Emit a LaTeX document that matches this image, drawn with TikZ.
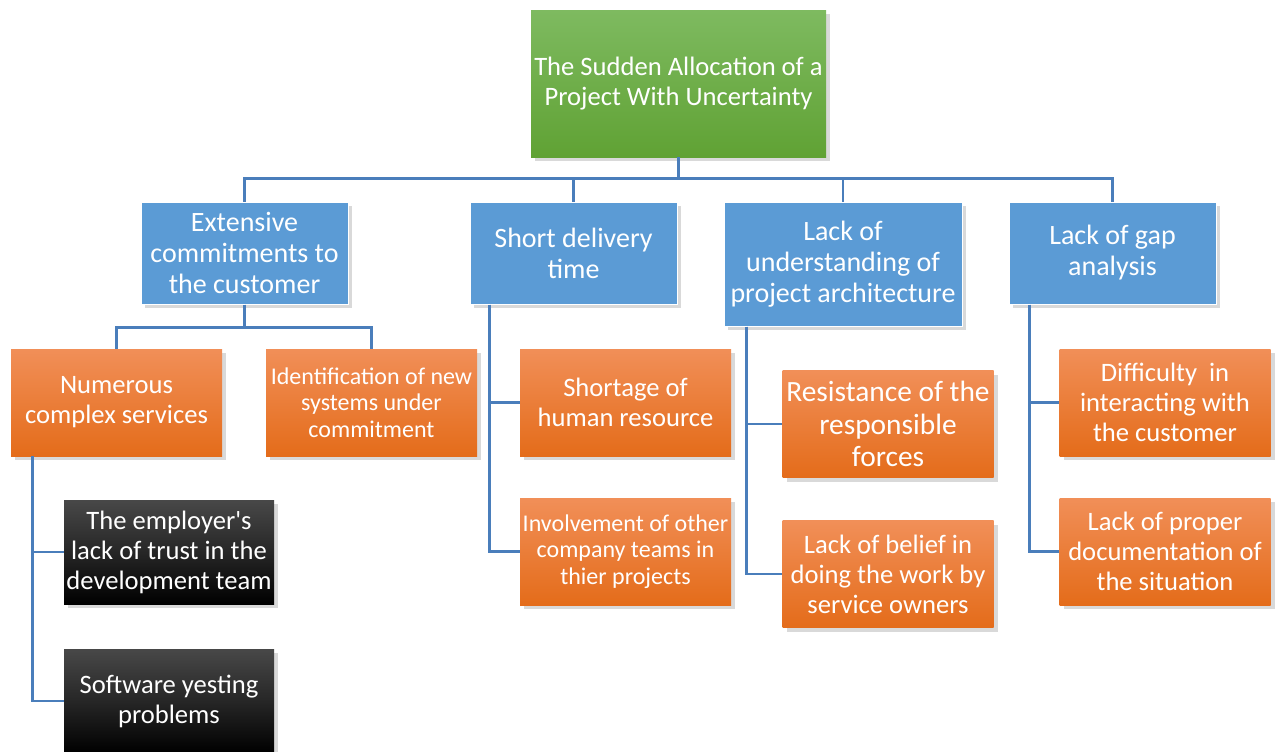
\documentclass[tikz,border=0pt]{standalone}
\usepackage{fontspec}
\setmainfont{Carlito}[Ligatures=TeXOff]
\usepackage{tikz}
\usetikzlibrary{calc,shapes,positioning}
\usetikzlibrary{shadows}
\definecolor{linkblue}{RGB}{74,126,187}
\definecolor{boxblue}{RGB}{91,155,213}
\definecolor{orangetop}{RGB}{241,143,88}
\definecolor{orangebot}{RGB}{228,108,26}
\definecolor{greentop}{RGB}{126,186,96}
\definecolor{greenbot}{RGB}{96,162,52}
\definecolor{blacktop}{RGB}{72,72,72}

\begin{document}
\begin{tikzpicture}[x=0.5pt,y=-0.5pt]
        \tikzstyle{link} = [draw=linkblue, line width=1.3pt]
        \tikzstyle{bx} = [rectangle, text=white, align=center, inner sep = 0.5pt,
                          font=\fontsize{13.3}{15}\selectfont,
                          drop shadow={opacity=0.3, shadow xshift=2pt, shadow yshift=-2pt}]
        \tikzstyle{gnode} = [bx, top color=greentop, bottom color=greenbot, minimum width=147.5pt, minimum height=73.5pt]
        \tikzstyle{bnode} = [bx, fill=boxblue, draw=white, line width=0.5pt, minimum width=103.5pt, minimum height=51pt, font=\fontsize{14}{15.5}\selectfont]
        \tikzstyle{onode} = [bx, top color=orangetop, bottom color=orangebot, minimum width=105.5pt, minimum height=53.5pt]
        \tikzstyle{knode} = [bx, top color=blacktop, bottom color=black, middle color=black!85, minimum width=105pt, minimum height=52pt]
        \tikzstyle{small} = [font=\fontsize{12}{13.25}\selectfont]

        \useasboundingbox (0,0) rectangle (1278,751);

        % root
        \node[gnode] (root) at (678.5,83.5) {The Sudden Allocation of a\\ Project With Uncertainty};

        % causes
        \node[bnode] (b1) at (244.5,253) {Extensive\\ commitments to\\ the customer};
        \node[bnode] (b2) at (573.5,253) {Short delivery\\ time};
        \node[bnode, minimum width=119pt, minimum height=62pt] (b3) at (843,264) {Lack of\\ understanding of\\ project architecture};
        \node[bnode] (b4) at (1112.5,253) {Lack of gap\\ analysis};

        % sub-causes
        \node[onode] (o1) at (116.5,402.5) {Numerous\\ complex services};
        \node[onode, small] (o2) at (371.5,402.5) {Identification of new\\ systems under\\ commitment};
        \node[knode] (k1) at (169,552) {The employer's\\ lack of trust in the\\ development team};
        \node[knode] (k2) at (169,701) {Software yesting\\ problems};
        \node[onode] (o3) at (625.5,402.5) {Shortage of\\ human resource};
        \node[onode, small] (o4) at (625.5,551.5) {Involvement of other\\ company teams in\\ thier projects};
        \node[onode, font=\fontsize{14.7}{16.25}\selectfont] (o5) at (888,424) {Resistance of the\\ responsible\\ forces};
        \node[onode] (o6) at (888,574) {Lack of belief in\\ doing the work by\\ service owners};
        \node[onode] (o7) at (1165,402.5) {Difficulty~ in\\ interacting with\\ the customer};
        \node[onode] (o8) at (1165,551.5) {Lack of proper\\ documentation of\\ the situation};

        \begin{scope}[on background layer/.try]
          \draw[link] (root.south) -- ++(0,21) -| (b1.north);
          \draw[link] (root.south) -- ++(0,21) -| (b2.north);
          \draw[link] (root.south) -- ++(0,21) -| (b3.north);
          \draw[link] (root.south) -- ++(0,21) -| (b4.north);

          \draw[link] (b1.south) -- ++(0,23) -| (o1.north);
          \draw[link] (b1.south) -- ++(0,23) -| (o2.north);

          \draw[link] ($(o1.south west)+(22,0)$) |- (k1.west);
          \draw[link] ($(o1.south west)+(22,0)$) |- (k2.west);
          \draw[link] ($(b2.south west)+(20,0)$) |- (o3.west);
          \draw[link] ($(b2.south west)+(20,0)$) |- (o4.west);
          \draw[link] ($(b3.south west)+(23,0)$) |- (o5.west);
          \draw[link] ($(b3.south west)+(23,0)$) |- (o6.west);
          \draw[link] ($(b4.south west)+(21,0)$) |- (o7.west);
          \draw[link] ($(b4.south west)+(21,0)$) |- (o8.west);
        \end{scope}
      \end{tikzpicture}
\end{document}
